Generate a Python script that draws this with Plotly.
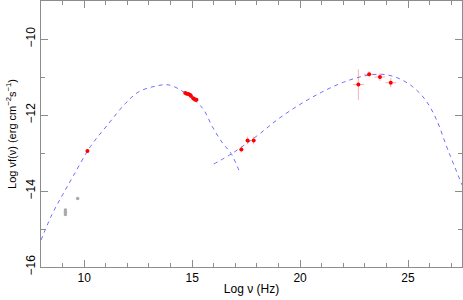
import plotly.graph_objects as go

# Synchrotron model curve
sync_x = [8.0, 8.5, 9.0, 9.5, 10.29, 11.14, 11.92, 12.53, 13.31, 13.93, 14.7, 15.48, 15.94, 16.41, 16.8, 17.19]
sync_y = [-15.29, -14.63, -14.1, -13.6, -12.83, -12.22, -11.69, -11.39, -11.24, -11.21, -11.43, -11.82, -12.31, -12.74, -13.01, -13.49]

# Inverse Compton model curve
ic_x = [16.0, 16.8, 18.0, 19.0, 20.0, 21.0, 22.0, 23.0, 23.8, 24.5, 25.2, 25.8, 26.3, 26.8, 27.03, 27.5]
ic_y = [-13.29, -13.03, -12.55, -12.10, -11.72, -11.40, -11.14, -10.97, -10.93, -11.02, -11.25, -11.6, -12.1, -12.85, -13.18, -13.84]

# Archival (grey) points
grey_x = [9.13, 9.13, 9.13, 9.7]
grey_y = [-14.5, -14.56, -14.62, -14.2]

# Simultaneous (red) points
red_x = [10.15, 14.68, 14.75, 14.82, 14.9, 14.95, 15.05, 15.1, 15.15, 15.2,
         17.28, 17.57, 17.85, 22.7, 23.2, 23.7, 24.2]
red_y = [-12.95, -11.42, -11.44, -11.45, -11.47, -11.5, -11.56, -11.58, -11.6, -11.6,
         -12.91, -12.67, -12.67, -11.2, -10.93, -11.0, -11.15]
red_yerr = [0.02, 0.02, 0.02, 0.02, 0.02, 0.02, 0.02, 0.02, 0.02, 0.02,
            0.08, 0.1, 0.1, 0.4, 0.08, 0.1, 0.12]
red_xerr = [0, 0, 0, 0, 0, 0, 0, 0, 0, 0,
            0.1, 0.1, 0.1, 0.25, 0.25, 0.25, 0.25]

x_ticks = [10, 15, 20, 25]
y_ticks = [-16, -14, -12, -10]

fig = go.Figure()
line_style = dict(color="rgb(110,110,255)", width=1, dash="4px,4px")
fig.add_trace(go.Scatter(x=sync_x, y=sync_y, mode="lines", line=dict(shape="spline", **line_style)))
fig.add_trace(go.Scatter(x=ic_x, y=ic_y, mode="lines", line=dict(shape="spline", **line_style)))
fig.add_trace(go.Scatter(x=grey_x, y=grey_y, mode="markers",
                         marker=dict(color="rgb(170,170,170)", size=3.5, symbol="circle")))
fig.add_trace(go.Scatter(x=red_x, y=red_y, mode="markers",
                         marker=dict(color="red", size=4, symbol="circle"),
                         error_y=dict(type="data", array=red_yerr, color="rgba(255,90,90,0.5)", thickness=1, width=0),
                         error_x=dict(type="data", array=red_xerr, color="rgba(255,90,90,0.5)", thickness=1, width=0)))

font = dict(family="Liberation Sans, Arial", size=12, color="black")
axis_common = dict(showline=True, linecolor="rgb(140,140,140)", linewidth=1, mirror="ticks",
                   ticks="inside", ticklen=7, tickcolor="rgb(140,140,140)", showgrid=False, zeroline=False,
                   tickfont=font, automargin=False)
fig.update_xaxes(range=[8, 27.5], tickvals=x_ticks, ticktext=[str(v) for v in x_ticks],
                 minor=dict(ticks="inside", ticklen=4, dtick=1, tick0=0, tickcolor="rgb(140,140,140)"),
                 title=dict(text="Log ν (Hz)", font=font, standoff=0),
                 **axis_common)
fig.update_yaxes(range=[-16, -9], tickvals=y_ticks, ticktext=["−16", "−14", "−12", "−10"], tickangle=-90,
                 minor=dict(ticks="inside", ticklen=4, dtick=1, tick0=0, tickcolor="rgb(140,140,140)"),
                 title=dict(text="Log νf(ν) (erg cm<sup>−2</sup>s<sup>−1</sup>)",
                            font=dict(family="Liberation Sans, Arial", size=11, color="black"), standoff=5),
                 **axis_common)
fig.update_layout(width=463, height=300, margin=dict(l=41, r=1, t=1, b=33),
                  plot_bgcolor="white", paper_bgcolor="white", showlegend=False)
fig.write_html("out.html", config={"displayModeBar": False},
               post_script="document.body.style.margin='0px';document.body.style.overflow='hidden';")
